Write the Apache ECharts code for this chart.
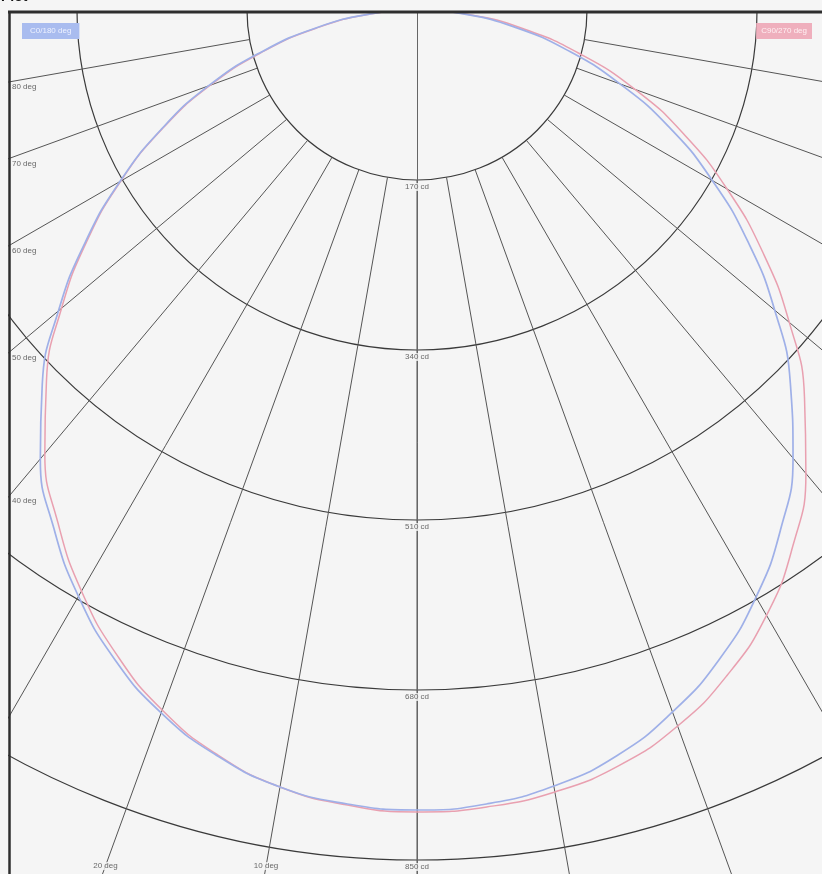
<!DOCTYPE html>
<html>
<head>
<meta charset="utf-8">
<script src="https://cdn.jsdelivr.net/npm/echarts@6/dist/echarts.min.js"></script>
<style>
html,body{margin:0;padding:0;background:#f5f5f5;}
#c{width:822px;height:874px;}
</style>
</head>
<body>
<div id="c"></div>
<script>
// ---- data ----
var gammaAngles = [0,5,10,15,20,25,30,35,40,45,50,55,60,65,70,75,80,85,90];
var c0Left   = [800,797,789,772,748,716,677,633,586,530,468,405,343,282,222,160,102,48,0];
var c0Right  = [800,797,788,772,747,716,678,634,585,528,467,404,341,279,216,156,100,48,0];
var c90Left  = [802,798,789,771,745,711,671,626,579,524,464,403,342,281,220,158,100,47,0];
var c90Right = [802,800,794,782,762,734,699,655,605,548,486,422,358,295,232,168,108,52,0];
var radiusTicks = [170,340,510,680,850];
var sideAngleLabels = [80,70,60,50,40];
var bottomAngleLabels = [20,10];
var seriesNames = ['C0/180 deg','C90/270 deg'];

// ---- layout ----
var CX = 417, CY = 10, LEFT_EDGE = 9, LABEL_Y = 866, RMAX = 1020;
var BG = '#f5f5f5';

function curve(left, right){
  var d = [];
  for (var i = right.length-1; i >= 1; i--) d.push([right[i], 360 - gammaAngles[i]]);
  d.push([(left[0]+right[0])/2, 0]);
  for (var j = 1; j < left.length; j++) d.push([left[j], gammaAngles[j]]);
  return d;
}
function rad(a){return a*Math.PI/180;}

var sideLabelData = sideAngleLabels.map(function(a){
  return {value:[(CX-LEFT_EDGE)/Math.sin(rad(a)), a], label:{formatter: a+' deg'}};
});
var bottomLabelData = bottomAngleLabels.map(function(a){
  return {value:[(LABEL_Y-CY)/Math.cos(rad(a)), a], label:{formatter: a+' deg'}};
});
var radiusLabelData = radiusTicks.map(function(r){
  return {value:[r,0], label:{formatter: r+' cd'}};
});

var chart = echarts.init(document.getElementById('c'));
var lblStyle = {fontSize:8, color:'#444', fontFamily:'Liberation Sans, Arial, sans-serif'};

chart.setOption({
  backgroundColor: BG,
  animation:false,
  legend:[
    {left:12, top:18, itemWidth:0, itemHeight:0, icon:'rect',
     data:[{name:seriesNames[0]}],
     textStyle:{fontSize:8, color:'#eef2ff', backgroundColor:'#a9bcef', padding:[4,8], fontFamily:'Liberation Sans, Arial, sans-serif'}},
    {right:5, top:18, itemWidth:0, itemHeight:0, icon:'rect',
     data:[{name:seriesNames[1]}],
     textStyle:{fontSize:8, color:'#fff0f3', backgroundColor:'#efafbd', padding:[4,5], fontFamily:'Liberation Sans, Arial, sans-serif'}}
  ],
  polar:[
    {center:[CX,CY], radius:RMAX},
    {center:[CX,CY], radius:[170,RMAX]}
  ],
  angleAxis:[
    {polarIndex:0, type:'value', min:0, max:360, startAngle:270, clockwise:true,
     axisLine:{show:false}, axisTick:{show:false}, axisLabel:{show:false}, splitLine:{show:false}},
    {polarIndex:1, type:'value', min:0, max:360, interval:10, startAngle:270, clockwise:true,
     axisLine:{show:false}, axisTick:{show:false}, axisLabel:{show:false},
     splitLine:{show:true, lineStyle:{color:'#555', width:1}}}
  ],
  radiusAxis:[
    {polarIndex:0, type:'value', min:0, max:RMAX, interval:170,
     axisLine:{show:true, lineStyle:{color:'#666', width:1}},
     axisTick:{show:false}, axisLabel:{show:false},
     splitLine:{show:true, lineStyle:{color:'#3a3a3a', width:1.2}}},
    {polarIndex:1, type:'value', min:0, max:RMAX, show:false,
     axisLine:{show:false}, axisTick:{show:false}, axisLabel:{show:false}, splitLine:{show:false}}
  ],
  series:[
    {name:seriesNames[0], type:'line', coordinateSystem:'polar', polarIndex:0,
     data:curve(c0Left,c0Right), smooth:true, showSymbol:false, symbol:'none',
     lineStyle:{color:'#9fb0e8', width:1.7}, itemStyle:{color:'#a9bcef'}, z:5},
    {name:seriesNames[1], type:'line', coordinateSystem:'polar', polarIndex:0,
     data:curve(c90Left,c90Right), smooth:true, showSymbol:false, symbol:'none',
     lineStyle:{color:'#e9a0b0', width:1.5}, itemStyle:{color:'#efafbd'}, z:4},
    {type:'scatter', coordinateSystem:'polar', polarIndex:0, symbolSize:0, silent:true,
     data:radiusLabelData, z:6,
     label:Object.assign({show:true, position:'bottom', distance:3, backgroundColor:BG, padding:[0,1]}, lblStyle)},
    {type:'scatter', coordinateSystem:'polar', polarIndex:0, symbolSize:0, silent:true,
     data:sideLabelData, z:6,
     label:Object.assign({show:true, position:'right', distance:3, offset:[0,5]}, lblStyle)},
    {type:'scatter', coordinateSystem:'polar', polarIndex:0, symbolSize:0, silent:true,
     data:bottomLabelData, z:6,
     label:Object.assign({show:true, position:'inside', backgroundColor:BG}, lblStyle)}
  ],
  graphic:[
    {type:'rect', z:100, silent:true, shape:{x:0,y:0,width:822,height:11}, style:{fill:BG}},
    {type:'rect', z:100, silent:true, shape:{x:0,y:0,width:8,height:874}, style:{fill:BG}},
    {type:'line', z:101, silent:true, shape:{x1:8,y1:12,x2:822,y2:12}, style:{stroke:'#2e2e2e', lineWidth:3}},
    {type:'line', z:101, silent:true, shape:{x1:9.5,y1:11,x2:9.5,y2:874}, style:{stroke:'#2e2e2e', lineWidth:2.5}},
    {type:'text', z:102, silent:true, x:1, y:-10, style:{text:'Plot', fill:'#111', font:'bold 14px Liberation Sans, Arial, sans-serif'}}
  ]
});
</script>
</body>
</html>
